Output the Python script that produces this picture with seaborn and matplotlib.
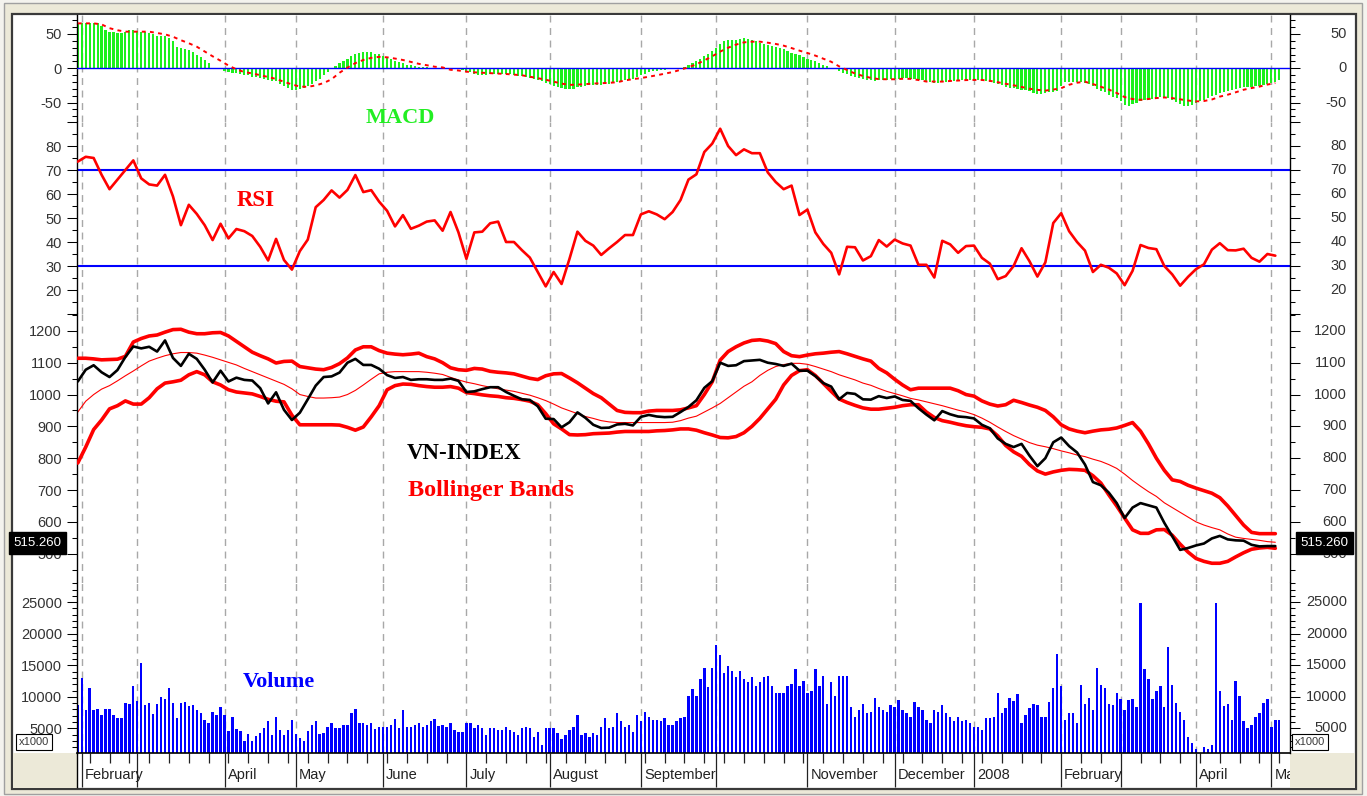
import numpy as np
import matplotlib
matplotlib.use("Agg")
import matplotlib.pyplot as plt
import seaborn as sns
from matplotlib.patches import Rectangle
from matplotlib.ticker import FixedLocator, MultipleLocator, FuncFormatter
from matplotlib.transforms import ScaledTranslation

# ---------------- data (trading-day index from end of Jan 2007) ----------------
month_days = [1, 15, 37, 55, 77, 98, 119, 142, 161, 184, 206, 226, 248, 263, 282, 301]
month_labels = ["February", "", "April", "May", "June", "July", "August", "September", "",
                "November", "December", "2008", "February", "", "April", "May"]
last_label = "515.260"

# daily volume (x1000)
volume = [
    8700, 13000, 7900, 11400, 7900, 8100, 7100, 8100, 8100, 7100,
    6600, 6600, 9000, 8800, 11700, 9300, 15400, 8700, 9000, 7300,
    8800, 10000, 9600, 11400, 9000, 6600, 9000, 9200, 8500, 8700,
    7900, 7400, 6400, 5800, 7600, 7100, 8400, 7100, 4600, 6800,
    4900, 4600, 3000, 4100, 3000, 3800, 4300, 5100, 6100, 3900,
    6800, 4700, 3900, 4700, 6400, 4100, 3500, 3000, 4600, 5600,
    6200, 4100, 4300, 5300, 5800, 5100, 5100, 5600, 5600, 7400,
    8100, 5900, 5900, 5600, 5900, 4900, 5300, 5300, 5300, 5600,
    6500, 5100, 7900, 5300, 5300, 5600, 5900, 5300, 5600, 6200,
    6500, 5400, 5500, 5300, 5800, 4700, 4500, 4500, 5800, 5800,
    5000, 5500, 5000, 3900, 5000, 5000, 4700, 4700, 5300, 4700,
    4500, 3900, 5000, 5300, 5000, 3700, 4500, 2400, 5000, 5000,
    5000, 4200, 3400, 3900, 4700, 5300, 7100, 3900, 4200, 3700,
    4200, 3900, 5300, 6600, 5000, 5300, 7400, 6100, 5300, 5500,
    4500, 7100, 6100, 7600, 6800, 6300, 6300, 6100, 6600, 5500,
    5500, 6100, 6600, 6800, 10100, 11200, 10100, 12800, 14600, 11500,
    14600, 18200, 16600, 13800, 14900, 14100, 13100, 14100, 12800, 12300,
    13100, 11700, 12300, 13100, 13300, 11700, 10600, 10600, 10600, 11700,
    12000, 14400, 11700, 12500, 10600, 10900, 14400, 11700, 13300, 8800,
    12300, 10100, 13300, 13300, 13300, 8400, 6800, 7900, 8900, 7400,
    7600, 9800, 8400, 7900, 7600, 8700, 8400, 9500, 7900, 7400,
    6800, 9200, 8400, 7900, 6300, 5800, 7900, 7600, 8700, 7400,
    6800, 6100, 6800, 6100, 6300, 5800, 5300, 5300, 4700, 6600,
    6600, 6800, 10600, 7400, 8300, 9800, 9300, 10400, 5800, 7100,
    8200, 8900, 8700, 6800, 6800, 9200, 11400, 16800, 11700, 6300,
    7400, 7400, 5800, 11900, 8900, 9800, 7900, 14600, 11900, 11400,
    8900, 8700, 10600, 9600, 7900, 9500, 9700, 8400, 24900, 14400,
    12800, 9600, 10900, 11700, 8400, 17900, 11900, 9100, 7600, 6300,
    3700, 2700, 1800, 1000, 2000, 1700, 2300, 24900, 10900, 8500,
    8800, 6300, 12500, 10100, 6100, 5000, 5500, 6800, 7400, 9100,
    9600, 5300, 6300, 6300,
]

# daily MACD histogram
macd_hist = [
    66.5, 66.5, 66.5, 66.5, 66.5, 66, 61, 56, 53.5, 53.4,
    52, 51, 53, 55.5, 55.5, 55, 53.5, 53.4, 52, 50,
    47, 47, 46.5, 44, 40, 31, 29.5, 28.2, 26.5, 24,
    19.4, 16.5, 12, 7, 1, 0, -1.5, -3.5, -5.3, -6.4,
    -7.3, -9, -9.7, -10.5, -12.3, -13, -14.2, -15.3, -16.5, -18,
    -19.2, -22.5, -26, -29, -32, -32, -30.8, -28.5, -26, -23,
    -19, -15, -10, -5, -1, 3.5, 7.8, 11.2, 14, 17.5,
    21, 23, 24.3, 24.3, 23.3, 21.5, 20.5, 18, 15.5, 13,
    10.5, 9.5, 8.3, 5.5, 4.9, 4, 2.4, 1.6, 1.2, 1,
    0, -1.5, -1, 0, -0.5, -0.5, -1, -2.5, -3.4, -6,
    -8.5, -9.5, -9.7, -9.7, -9, -8.3, -8.3, -8.3, -8.3, -9,
    -9.7, -10.8, -11.5, -13, -14.5, -16, -17.5, -18.5, -21, -23.5,
    -25.5, -28, -29.1, -30.5, -30.6, -29.5, -27.5, -26.7, -25.8, -25,
    -24.3, -24.3, -24.3, -23.2, -22.5, -21.5, -20, -18.3, -17.7, -16.5,
    -16, -13.1, -10, -8, -5.5, -4.3, -3.4, -2.5, -2, -1.2,
    -0.3, 0.2, 0.5, 2.4, 4.9, 7.5, 10.5, 13.5, 17.5, 21.5,
    25.5, 30, 35, 40.5, 41.3, 41.3, 41.8, 42.3, 43.5, 42.5,
    41.5, 40, 37.5, 35.3, 34.2, 32.5, 31.2, 30, 27.7, 25,
    22.5, 20.5, 19, 16, 13.7, 12, 10.5, 8, 5, 3,
    0.5, -1.5, -3.6, -6.5, -9, -11.5, -13.1, -13.5, -15.5, -16.5,
    -17.5, -17.8, -17, -17, -16.5, -16, -16, -16, -14.6, -14.6,
    -15.2, -16, -16.7, -17.2, -18, -19.5, -20.9, -20.9, -20.5, -19.5,
    -18.8, -18, -18, -17.7, -17, -17, -17, -17, -17, -17.8,
    -19.5, -21, -23.5, -25, -27.2, -28.5, -29.2, -30, -31, -32.2,
    -33.5, -35.4, -37, -37, -36, -35.2, -34, -32.8, -26, -20.5,
    -19.4, -19.4, -19.4, -20.3, -21.2, -22.5, -25.5, -29.5, -33, -35,
    -39, -41.8, -44, -47, -53.8, -54.9, -52, -50, -48, -46.3,
    -45.1, -45.1, -43.8, -42.2, -42.2, -43.7, -45.5, -49.5, -52.5, -54.9,
    -54.9, -53, -50.5, -48.3, -46.5, -44, -41, -38.5, -36.5, -35,
    -33, -31.4, -30.3, -29.2, -27.9, -27.7, -27.4, -26.5, -25.8, -24.3,
    -22.5, -21, -19.7, -17,
]

# series read every second trading day
macd_signal = [
    65.5, 65.5, 65.5, 64, 58.5, 55.5, 53.4, 53.4, 53.4, 53.4,
    51.5, 49.5, 46, 41, 36.5, 31.5, 24.5, 17.5, 11, 4,
    -1.5, -5.5, -7.5, -10, -12.8, -15.5, -19.7, -23.5, -26.7, -27,
    -25, -21.5, -16, -6.5, 1, 7.5, 12.1, 15.2, 16.7, 16,
    14.2, 12.1, 9.3, 6.5, 4.5, 2.3, 1.3, -2.2, -3.2, -4.9,
    -5.9, -6.5, -7, -7.7, -8.3, -9.2, -10.2, -12.3, -14.4, -16.7,
    -19.5, -22.3, -24.2, -23.8, -23, -22.3, -21.7, -21.2, -20.3, -17.7,
    -15.8, -14.3, -12.3, -10.2, -7.9, -5.5, -2.2, 1.6, 5.8, 11.5,
    17.5, 24.3, 30, 34.5, 37.8, 38.8, 38.8, 37.3, 35.5, 33,
    29.5, 25.7, 22.3, 18.5, 14, 9.5, 2.8, -2.5, -7.6, -11.2,
    -14, -15.8, -16, -16, -15.3, -15.4, -17.1, -19.3, -19.4, -19.4,
    -18.5, -17.8, -17.2, -17, -17, -18.3, -20.3, -22.5, -24.8, -27.2,
    -29.8, -31.4, -32.5, -31, -29, -24, -21, -19.6, -23, -26.9,
    -31, -36, -42, -44.8, -46, -44.8, -43.4, -42.5, -43.5, -45.2,
    -47, -48.3, -47.7, -45.5, -41.3, -38.5, -35, -31.3, -28.8, -26.7,
    -23.7, -21.5,
]

rsi = [
    73.5, 75.5, 75, 68, 62, 66, 70, 74, 66.5, 64,
    63.5, 68, 59, 47, 55.5, 51.7, 47, 40.8, 47.6, 41.5,
    45.4, 44.5, 42.5, 38, 32.3, 41.3, 32.5, 28.5, 36.2, 41,
    54.5, 57.5, 61.5, 58.5, 61.7, 67.9, 60.8, 61.6, 56.8, 53,
    46.5, 51.2, 45.5, 46.8, 48.5, 49, 44.7, 52.5, 44, 33,
    44, 44.3, 47.8, 48.5, 40, 40, 36.6, 33.5, 27.5, 21.5,
    27.5, 22.5, 33, 44.3, 40.5, 38.5, 34.6, 37.4, 40, 42.9,
    42.9, 51.5, 52.8, 51.5, 49.5, 52.5, 57.5, 66, 68.2, 77.5,
    81, 87.2, 80, 76.2, 78.6, 77, 77, 69, 65, 62,
    63.5, 51.25, 53.5, 44, 39.2, 35.5, 26.5, 38, 37.8, 32.3,
    34.1, 40.8, 38.1, 41, 39.4, 38.5, 30.5, 30.5, 25.2, 40.5,
    39, 35.5, 38.3, 38.5, 33.4, 31, 24.5, 25.8, 30, 37.4,
    32, 25.6, 31.5, 47.9, 52, 44.5, 40, 36.4, 27.5, 30.5,
    29.3, 26.9, 22, 28, 38.75, 37.5, 37, 30, 26.5, 21.8,
    25.5, 28.7, 30.7, 36.8, 39.5, 36.6, 36.5, 37.2, 33.4, 31.8,
    35, 34.3,
]

close = [
    1041, 1078, 1092, 1070, 1055, 1077, 1118, 1151, 1145, 1150,
    1135, 1170, 1115, 1090, 1128, 1112, 1078, 1038, 1075, 1041,
    1053, 1046, 1044, 1020, 972, 1007, 952, 920, 943, 985,
    1028, 1055, 1057, 1069, 1100, 1112, 1093, 1093, 1081, 1061,
    1052, 1055, 1046, 1048, 1048, 1046, 1046, 1050, 1043, 1008,
    1010, 1017, 1023, 1023, 1008, 996, 985, 983, 963, 924,
    923, 897, 913, 944, 927, 905, 895, 896, 906, 908,
    903, 930, 936, 931, 929, 930, 945, 961, 982, 1021,
    1042, 1100, 1090, 1092, 1105, 1107, 1109, 1100, 1096, 1090,
    1097, 1075, 1075, 1058, 1036, 1025, 985, 1005, 1002, 985,
    984, 995, 989, 994, 983, 980, 957, 937, 919, 948,
    938, 931, 929, 925, 905, 894, 862, 845, 835, 845,
    808, 775, 800, 850, 865, 838, 818, 780, 725, 715,
    692, 659, 612, 645, 659, 652, 645, 597, 555, 512,
    518, 526, 532, 548, 556, 545, 542, 541, 528, 523,
    524, 524,
]

bb_upper = [
    1114, 1114, 1112, 1109, 1110, 1111, 1120, 1165, 1176, 1184,
    1187, 1196, 1204, 1205, 1196, 1191, 1191, 1194, 1195, 1184,
    1167, 1150, 1133, 1122, 1112, 1099, 1104, 1105, 1088, 1084,
    1080, 1078, 1085, 1097, 1115, 1140, 1150, 1150, 1138, 1130,
    1127, 1125, 1127, 1130, 1119, 1112, 1100, 1084, 1078, 1076,
    1082, 1080, 1073, 1070, 1068, 1065, 1058, 1051, 1047, 1059,
    1065, 1066, 1052, 1037, 1020, 1003, 990, 970, 950, 944,
    943, 943, 948, 950, 950, 950, 952, 958, 965, 1000,
    1040, 1108, 1135, 1150, 1162, 1170, 1172, 1168, 1160, 1135,
    1122, 1119, 1124, 1128, 1130, 1133, 1135, 1128, 1120, 1112,
    1105, 1082, 1068, 1048, 1030, 1015, 1020, 1020, 1020, 1020,
    1020, 1012, 1000, 995, 980, 970, 964, 968, 982, 975,
    967, 960, 950, 930, 905, 892, 885, 880, 885, 889,
    891, 895, 903, 912, 885, 845, 800, 762, 732, 727,
    715, 706, 698, 690, 676, 650, 620, 590, 567, 563,
    563, 563,
]

bb_lower = [
    785, 835, 890, 920, 955, 965, 980, 970, 970, 990,
    1018, 1036, 1040, 1045, 1062, 1072, 1062, 1040, 1030, 1015,
    1008, 1005, 1002, 994, 985, 979, 977, 935, 905, 905,
    905, 905, 905, 904, 897, 888, 898, 930, 965, 1015,
    1028, 1033, 1032, 1028, 1025, 1023, 1023, 1025, 1020, 1006,
    1003, 999, 996, 994, 990, 988, 984, 979, 968, 940,
    908, 892, 874, 873, 874, 877, 878, 879, 882, 884,
    884, 884, 884, 886, 887, 889, 892, 892, 888, 880,
    873, 865, 864, 868, 880, 900, 925, 955, 985, 1030,
    1060, 1075, 1078, 1060, 1035, 1010, 986, 975, 966, 958,
    954, 954, 957, 960, 965, 968, 968, 945, 928, 918,
    913, 907, 902, 899, 897, 892, 870, 840, 820, 806,
    780, 760, 750, 757, 762, 765, 764, 762, 745, 722,
    685, 650, 612, 575, 564, 564, 575, 576, 558, 530,
    505, 485, 476, 470, 470, 476, 490, 503, 514, 518,
    520, 517,
]

bb_middle = [
    945, 979, 1000, 1017, 1028, 1043, 1059, 1074, 1090, 1105,
    1114, 1122, 1128, 1132, 1132, 1130, 1124, 1117, 1109, 1101,
    1093, 1082, 1072, 1062, 1052, 1042, 1032, 1018, 1000, 994,
    989, 989, 990, 992, 1000, 1013, 1030, 1048, 1065, 1070,
    1072, 1072, 1072, 1072, 1070, 1067, 1063, 1054, 1046, 1039,
    1034, 1028, 1023, 1018, 1014, 1010, 1004, 998, 990, 981,
    970, 958, 949, 940, 931, 925, 918, 914, 912, 912,
    912, 912, 912, 912, 912, 913, 918, 926, 932, 945,
    958, 972, 990, 1008, 1026, 1040, 1060, 1076, 1088, 1094,
    1098, 1098, 1095, 1088, 1080, 1072, 1062, 1054, 1046, 1036,
    1029, 1019, 1010, 1003, 996, 988, 983, 977, 971, 965,
    958, 951, 945, 937, 926, 913, 898, 884, 871, 860,
    849, 841, 836, 830, 823, 817, 810, 805, 797, 790,
    780, 768, 750, 730, 712, 695, 680, 660, 645, 630,
    615, 600, 590, 582, 575, 562, 552, 548, 545, 542,
    538, 536,
]

# ---------------- figure ----------------
sns.set_theme(style="white")
plt.rcParams['font.family'] = ['Liberation Sans', 'DejaVu Sans']

W, H = 1367, 796
fig = plt.figure(figsize=(W / 100, H / 100), dpi=100)
fig.patch.set_facecolor('#F4F3EE')


def frac(x0, y0, x1, y1):
    return [x0 / W, 1 - y1 / H, (x1 - x0) / W, (y1 - y0) / H]


def frame_rect(x0, y0, x1, y1, fc, ec='none', lw=0.0, z=-5):
    l, b, w, h = frac(x0, y0, x1, y1)
    fig.add_artist(Rectangle((l, b), w, h, transform=fig.transFigure, facecolor=fc,
                             edgecolor=ec, linewidth=lw, zorder=z))


frame_rect(4, 3, 1362, 794, '#ECE9D8', ec='#A0A0A0', lw=1, z=-5)
frame_rect(12, 14, 1356, 789, 'white', ec='#3A3A3A', lw=1.6, z=-4)
frame_rect(13, 753, 77, 788, '#ECE9D8', z=-3)
frame_rect(1290, 753, 1355, 788, '#ECE9D8', z=-3)

n = len(volume)
days = np.arange(n)
line_days = np.arange(len(close)) * 2
week_days = np.arange(3, n, 5)
xlim = (-0.2, n + 1.7)

ax_macd = fig.add_axes(frac(77, 15, 1290, 122))
ax_rsi = fig.add_axes(frac(77, 122, 1290, 314))
ax_price = fig.add_axes(frac(77, 314, 1290, 583))
ax_vol = fig.add_axes(frac(77, 583, 1290, 753))
ax_date = fig.add_axes(frac(77, 753, 1290, 787))

panels = [ax_macd, ax_rsi, ax_price, ax_vol]
LBL_COLOR = '#333333'
right_shift = ScaledTranslation(57 / 100, 0, fig.dpi_scale_trans)

# MACD
ax_macd.bar(days, macd_hist, width=0.55, color='#1CF01C', linewidth=0, zorder=2)
ax_macd.axhline(0, color='#0000FF', lw=1, zorder=3)
sns.lineplot(x=line_days, y=macd_signal, ax=ax_macd, color='#FF0000', linewidth=1.4,
             linestyle=(0, (2, 2.2)), zorder=4)

# RSI
ax_rsi.axhline(70, color='#0000FF', lw=1.5, zorder=2)
ax_rsi.axhline(30, color='#0000FF', lw=1.5, zorder=2)
sns.lineplot(x=line_days, y=rsi, ax=ax_rsi, color='#FF0000', linewidth=1.9, zorder=3)

# Price + Bollinger
sns.lineplot(x=line_days, y=bb_middle, ax=ax_price, color='#FF0000', linewidth=0.8, zorder=2)
sns.lineplot(x=line_days, y=bb_upper, ax=ax_price, color='#FF0000', linewidth=2.6, zorder=3)
sns.lineplot(x=line_days, y=bb_lower, ax=ax_price, color='#FF0000', linewidth=2.6, zorder=3)
sns.lineplot(x=line_days, y=close, ax=ax_price, color='#000000', linewidth=1.9, zorder=4)

# Volume
ax_vol.bar(days, volume, width=0.6, color='#0000FF', linewidth=0, zorder=2)


def setup_y(ax, ylim, major, labeled, minor_step):
    ax.set_ylim(*ylim)
    ax.yaxis.set_major_locator(FixedLocator(major))
    ax.yaxis.set_minor_locator(MultipleLocator(minor_step))
    lab = set(labeled)
    ax.yaxis.set_major_formatter(FuncFormatter(lambda v, p: f"{int(round(v))}" if round(v) in lab else ""))
    ax.tick_params(axis='y', which='major', left=True, right=True, direction='out', length=7.2,
                   width=0.75, color='black', labelleft=True, labelright=False, labelsize=10.5,
                   labelcolor=LBL_COLOR, pad=3.6)
    ax.tick_params(axis='y', which='minor', left=True, right=True, direction='out', length=3.6,
                   width=0.75, color='black')
    for v in labeled:
        ax.text(1, v, f"{v}", transform=ax.get_yaxis_transform() + right_shift, ha='right',
                va='center', fontsize=10.5, color=LBL_COLOR, clip_on=False)


setup_y(ax_macd, (-78.3, 77.7), [-50, 0, 50], [50, 0, -50], 10)
setup_y(ax_rsi, (10, 90), list(range(10, 91, 10)), [80, 70, 60, 50, 40, 30, 20], 5)
setup_y(ax_price, (408, 1253), list(range(500, 1201, 100)), list(range(1200, 499, -100)), 50)
setup_y(ax_vol, (1108, 28030), list(range(5000, 25001, 5000)), [25000, 20000, 15000, 10000, 5000], 1000)

for ax in panels:
    ax.set_xlim(*xlim)
    ax.set_facecolor('white')
    ax.set_xlabel('')
    ax.set_ylabel('')
    ax.set_xticks(month_days)
    ax.xaxis.grid(True, color='#A8A8A8', linewidth=1, linestyle=(0, (5, 4)))
    ax.set_axisbelow(True)
    ax.tick_params(axis='x', which='both', bottom=False, top=False, labelbottom=False)
    for s in ['left', 'right']:
        ax.spines[s].set_visible(True)
        ax.spines[s].set_color('black')
        ax.spines[s].set_linewidth(1)
    ax.spines['top'].set_visible(False)
    ax.spines['bottom'].set_visible(False)

ax_vol.spines['bottom'].set_visible(True)
ax_vol.spines['bottom'].set_color('black')
ax_vol.spines['bottom'].set_linewidth(1.2)
ax_vol.set_xticks(week_days, minor=True)
ax_vol.tick_params(axis='x', which='major', bottom=True, direction='out', length=24.5, width=0.9,
                   color='#222222', labelbottom=False)
ax_vol.tick_params(axis='x', which='minor', bottom=True, direction='out', length=7.2, width=0.9,
                   color='#222222')

# date strip
ax_date.set_xlim(*xlim)
ax_date.set_ylim(0, 1)
ax_date.patch.set_alpha(0)
for s in ['top', 'right', 'bottom']:
    ax_date.spines[s].set_visible(False)
ax_date.spines['left'].set_color('black')
ax_date.spines['left'].set_linewidth(1)
ax_date.set_xticks([])
ax_date.set_yticks([])
lab_shift = ScaledTranslation(3 / 100, 0, fig.dpi_scale_trans)
for d, lbl in zip(month_days, month_labels):
    if lbl:
        ax_date.text(d, 0.235, lbl, transform=ax_date.get_xaxis_transform() + lab_shift,
                     ha='left', va='baseline', fontsize=10.5, color='#222222', clip_on=True)

# last-price boxes (cover the "500" labels as in the original)
last = close[-1]
box_kw = dict(boxstyle='square,pad=0.35', fc='black', ec='black')
ax_price.annotate(last_label, xy=(0, last), xycoords=('axes fraction', 'data'), xytext=(-11.2, 2.2),
                  textcoords='offset points', ha='right', va='center', color='white', fontsize=9.5,
                  bbox=box_kw, annotation_clip=False, zorder=10)
ax_price.annotate(last_label, xy=(1, last), xycoords=('axes fraction', 'data'), xytext=(7.6, 2.2),
                  textcoords='offset points', ha='left', va='center', color='white', fontsize=9.5,
                  bbox=box_kw, annotation_clip=False, zorder=10)

# x1000 boxes
for cx in (34, 1310):
    fig.text(cx / W, 1 - 742 / H, 'x1000', ha='center', va='center', fontsize=8, color='#3A3A3A',
             bbox=dict(boxstyle='square,pad=0.25', fc='white', ec='black', lw=0.8), zorder=10)

# panel titles
serif = ['Liberation Serif', 'DejaVu Serif']
fig.text(400 / W, 1 - 123 / H, 'MACD', ha='center', va='baseline', family=serif, weight='bold',
         fontsize=16, color='#22EE22')
fig.text(256 / W, 1 - 206 / H, 'RSI', ha='center', va='baseline', family=serif, weight='bold',
         fontsize=16.5, color='#FF0000')
fig.text(407 / W, 1 - 459 / H, 'VN-INDEX', ha='left', va='baseline', family=serif, weight='bold',
         fontsize=16.5, color='#000000')
fig.text(408 / W, 1 - 496 / H, 'Bollinger Bands', ha='left', va='baseline', family=serif,
         weight='bold', fontsize=17.5, color='#FF0000')
fig.text(279 / W, 1 - 687 / H, 'Volume', ha='center', va='baseline', family=serif, weight='bold',
         fontsize=16, color='#0000FF')

fig.savefig('out.png', dpi=100, facecolor=fig.get_facecolor())
